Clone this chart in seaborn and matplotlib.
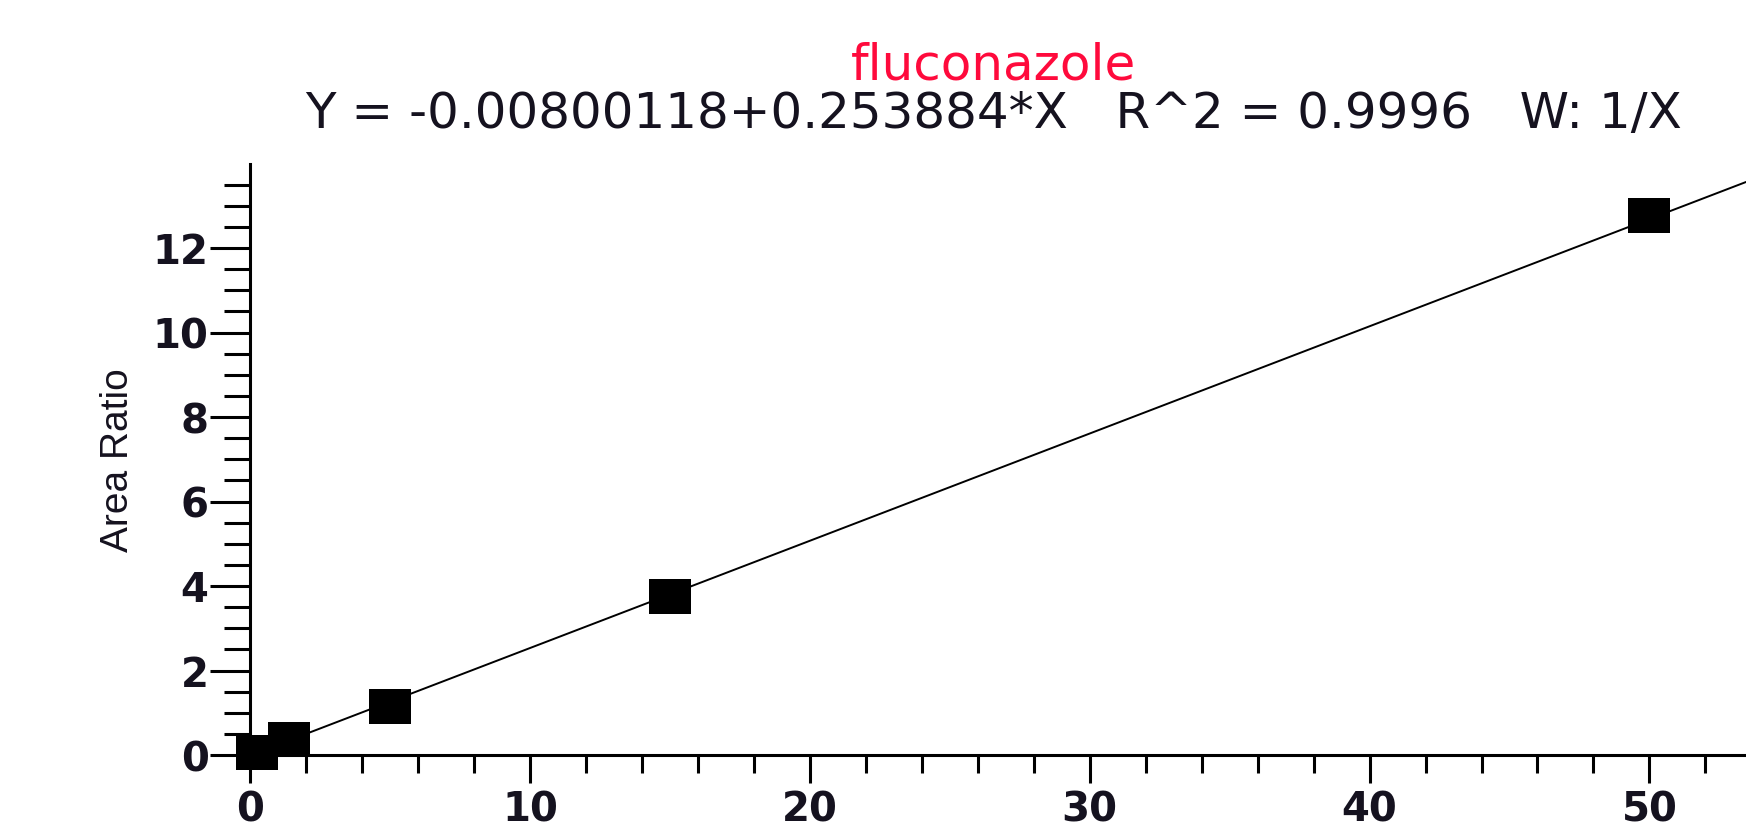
import numpy as np
import pandas as pd
import matplotlib
matplotlib.use("Agg")
import matplotlib.pyplot as plt
from matplotlib.path import Path
from matplotlib.ticker import FixedLocator, NullFormatter
import seaborn as sns

# Calibration standards: nominal concentration and measured area ratio
concentration = [0.25, 1.4, 5, 15, 50]
area_ratio = [0.07, 0.38, 1.17, 3.77, 12.78]

# Weighted (1/X) linear fit reported for the curve
intercept = -0.00800118
slope = 0.253884
r_squared = 0.9996
weighting = "1/X"
compound = "fluconazole"

x_major = [0, 10, 20, 30, 40, 50]
x_minor = list(range(0, 53, 2))
y_major = [0, 2, 4, 6, 8, 10, 12]
y_minor = list(np.arange(0, 14, 0.5))
x_max = 53.45
y_max = 14

sns.set_style("ticks")
plt.rcParams["font.family"] = ["DejaVu Sans"]

fig = plt.figure(figsize=(17.46, 8.29), dpi=100)
ax = fig.add_axes([250 / 1746, 1 - 756 / 829, 1 - 250 / 1746, (756 - 164.5) / 829])

# Regression line across the plotted concentration range
fit_x = np.linspace(0, x_max, 2)
fit = pd.DataFrame({"x": fit_x, "y": intercept + slope * fit_x})
sns.lineplot(data=fit, x="x", y="y", color="black", linewidth=1.4, ax=ax, zorder=2)

# Standards drawn as filled boxes
box = Path([(-1, -0.84), (1, -0.84), (1, 0.84), (-1, 0.84), (-1, -0.84)],
           [Path.MOVETO, Path.LINETO, Path.LINETO, Path.LINETO, Path.CLOSEPOLY])
pts = pd.DataFrame({"conc": concentration, "ratio": area_ratio})
sns.scatterplot(data=pts, x="conc", y="ratio", marker=box, s=900, color="black",
                edgecolor="black", linewidth=0, ax=ax, zorder=3, clip_on=False)

ax.set_xlim(0, x_max)
ax.set_ylim(0, y_max)
ax.xaxis.set_major_locator(FixedLocator(x_major))
ax.xaxis.set_minor_locator(FixedLocator(x_minor))
ax.yaxis.set_major_locator(FixedLocator(y_major))
ax.yaxis.set_minor_locator(FixedLocator(y_minor))
ax.xaxis.set_minor_formatter(NullFormatter())
ax.yaxis.set_minor_formatter(NullFormatter())

sns.despine(ax=ax)
for side in ("left", "bottom"):
    ax.spines[side].set_linewidth(2.2)
    ax.spines[side].set_color("black")

text_color = "#15121f"
ax.tick_params(axis="x", which="major", length=20, width=2.2, pad=5,
               labelsize=29, labelcolor=text_color, color="black")
ax.tick_params(axis="x", which="minor", length=13, width=2.2, color="black")
ax.tick_params(axis="y", which="major", length=28.8, width=2.2, pad=1,
               labelsize=29, labelcolor=text_color, color="black")
ax.tick_params(axis="y", which="minor", length=18.7, width=2.2, color="black")
for lab in ax.get_xticklabels() + ax.get_yticklabels():
    lab.set_fontweight("bold")

ax.set_xlabel("")
ax.set_ylabel("Area Ratio", fontsize=28, color=text_color,
              family=["Liberation Sans", "DejaVu Sans"])
ax.yaxis.set_label_coords(-0.076, 0.5)

fig.text(994 / 1746, 1 - 80 / 829, compound, color="#ff0a3c", fontsize=36,
         ha="center", va="baseline")
equation = (f"Y = {intercept}+{slope}*X   R^2 = {r_squared}   W: {weighting}")
fig.text(994 / 1746, 1 - 128 / 829, equation, color=text_color, fontsize=36,
         ha="center", va="baseline")

fig.savefig("out.png", dpi=100)
